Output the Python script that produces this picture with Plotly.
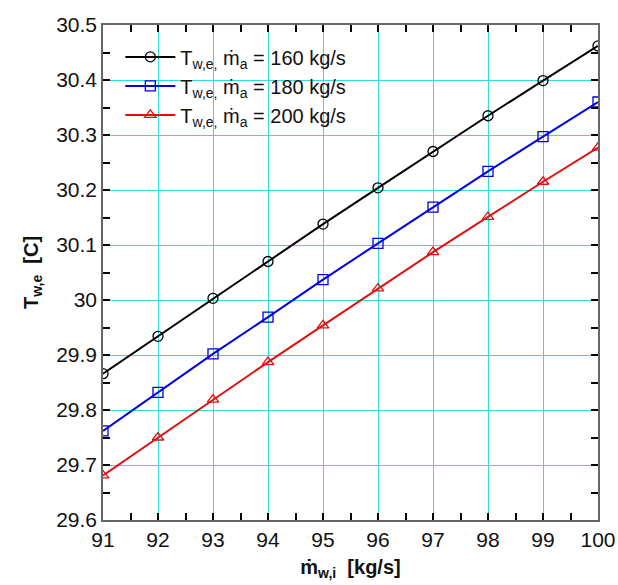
import plotly.graph_objects as go

x_vals = [91, 92, 93, 94, 95, 96, 97, 98, 99, 100]
t_160 = [29.866, 29.934, 30.003, 30.070, 30.138, 30.204, 30.270, 30.335, 30.399, 30.462]
t_180 = [29.762, 29.832, 29.902, 29.969, 30.037, 30.103, 30.169, 30.234, 30.297, 30.360]
t_200 = [29.681, 29.750, 29.819, 29.887, 29.954, 30.021, 30.087, 30.151, 30.215, 30.277]
names = ["T<sub>w,e,</sub> ṁ<sub>a</sub> = 160 kg/s",
         "T<sub>w,e,</sub> ṁ<sub>a</sub> = 180 kg/s",
         "T<sub>w,e,</sub> ṁ<sub>a</sub> = 200 kg/s"]

colors = ["#000000", "#0000e0", "#e01010"]
symbols = ["circle-open", "square-open", "triangle-up-open"]
series = [t_160, t_180, t_200]

fig = go.Figure()
for ys, c, s, n in zip(series, colors, symbols, names):
    fig.add_trace(go.Scatter(x=x_vals, y=ys, mode="lines+markers", name=n,
                             line=dict(color=c, width=2),
                             marker=dict(symbol=s, size=10, color=c,
                                         line=dict(color=c, width=1.3))))
font = dict(family="Liberation Sans, Arial, sans-serif", size=21, color="#111")
fig.update_layout(
    template="none",
    width=618, height=585,
    margin=dict(l=103, r=20, t=25, b=65),
    font=font,
    showlegend=True,
    legend=dict(x=0.035, y=0.975, xanchor="left", yanchor="top",
                bgcolor="rgba(255,255,255,0)", font=dict(size=20),
                tracegroupgap=0, itemwidth=50),
    xaxis=dict(range=[91, 100], dtick=1,
               gridcolor="#33dddd",
               showline=True, linecolor="#666", linewidth=1.5, mirror="allticks",
               ticks="inside", ticklen=7, tickcolor="black", tickwidth=1.5,
               minor=dict(dtick=0.5, ticks="inside", ticklen=7,
                          tickcolor="black", tickwidth=1.5),
               title=dict(text="<b>ṁ<sub>w,i</sub>  [kg/s]</b>", standoff=10, font=dict(size=20))),
    yaxis=dict(range=[29.6, 30.5], dtick=0.1,
               gridcolor="#33dddd",
               showline=True, linecolor="#666", linewidth=1.5, mirror="allticks",
               ticks="inside", ticklen=7, tickcolor="black", tickwidth=1.5,
               minor=dict(dtick=0.05, ticks="inside", ticklen=7,
                          tickcolor="black", tickwidth=1.5),
               title=dict(text="<b>T<sub>w,e</sub>  [C]</b>", standoff=12, font=dict(size=20))),
)
fig.write_html("out.html")
